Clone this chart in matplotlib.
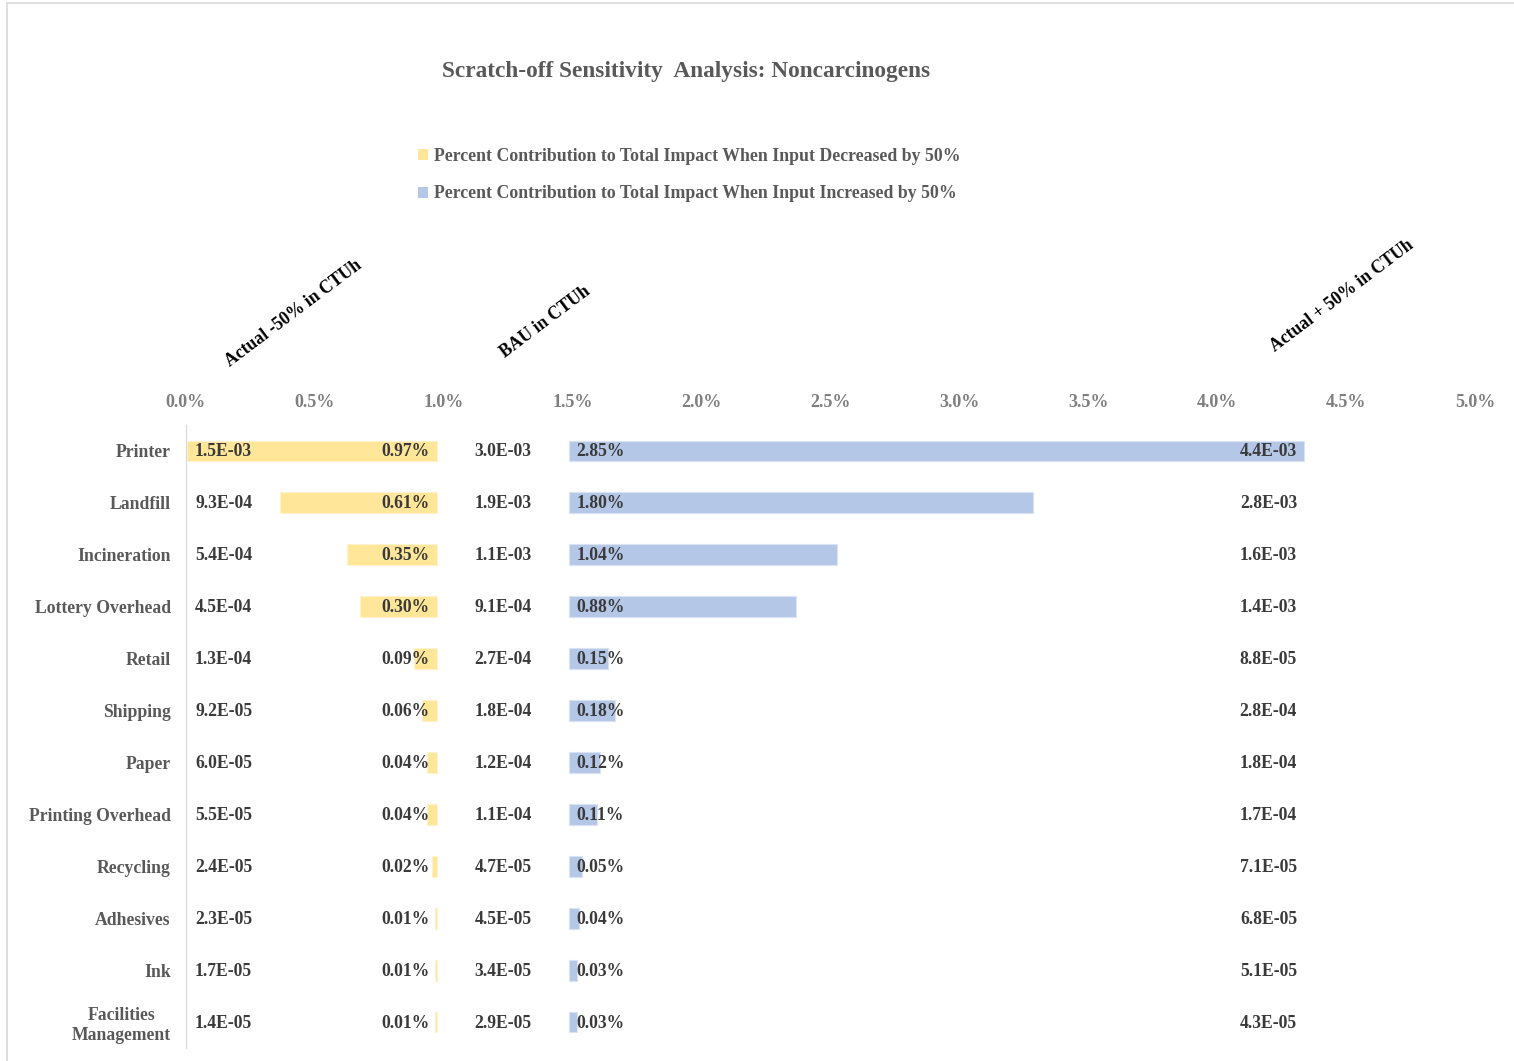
import matplotlib
matplotlib.use("Agg")
import matplotlib.pyplot as plt
from matplotlib.patches import Patch, Rectangle

# data
categories = ["Printer", "Landfill", "Incineration", "Lottery Overhead", "Retail",
              "Shipping", "Paper", "Printing Overhead", "Recycling", "Adhesives",
              "Ink", "Facilities\nManagement"]
pct_decreased = [0.97, 0.61, 0.35, 0.30, 0.09, 0.06, 0.04, 0.04, 0.02, 0.01, 0.01, 0.01]
pct_increased = [2.85, 1.80, 1.04, 0.88, 0.15, 0.18, 0.12, 0.11, 0.05, 0.04, 0.03, 0.03]
actual_minus = ["1.5E-03", "9.3E-04", "5.4E-04", "4.5E-04", "1.3E-04", "9.2E-05",
                "6.0E-05", "5.5E-05", "2.4E-05", "2.3E-05", "1.7E-05", "1.4E-05"]
bau = ["3.0E-03", "1.9E-03", "1.1E-03", "9.1E-04", "2.7E-04", "1.8E-04",
       "1.2E-04", "1.1E-04", "4.7E-05", "4.5E-05", "3.4E-05", "2.9E-05"]
actual_plus = ["4.4E-03", "2.8E-03", "1.6E-03", "1.4E-03", "8.8E-05", "2.8E-04",
               "1.8E-04", "1.7E-04", "7.1E-05", "6.8E-05", "5.1E-05", "4.3E-05"]
xticks = [0.0, 0.5, 1.0, 1.5, 2.0, 2.5, 3.0, 3.5, 4.0, 4.5, 5.0]

YELLOW = "#FFE699"
BLUE = "#B4C7E7"
yellow_end = 0.975   # yellow bars end here
blue_start = 1.485   # blue bars start here
FS = 12.7

plt.rcParams['font.family'] = ['Liberation Serif', 'DejaVu Serif']
plt.rcParams['font.weight'] = 'bold'

fig = plt.figure(figsize=(15.14, 10.61), dpi=100)
ax = fig.add_axes([186 / 1514, 1 - 1048 / 1061, 1289 / 1514, 623 / 1061])

y = list(range(len(categories)))
lefts = [yellow_end - v for v in pct_decreased]
ax.barh(y, pct_decreased, left=lefts, height=0.4, color=YELLOW,
        edgecolor="#fff2cc", linewidth=0.8)
ax.barh(y, pct_increased, left=blue_start, height=0.4, color=BLUE,
        edgecolor="#dae3f3", linewidth=0.8)

lab = dict(fontsize=FS, fontweight='bold', color="#3a3a3a", va='center')
for i in y:
    ax.text(0.035, i + 0.02, actual_minus[i], ha='left', **lab)
    ax.text(yellow_end - 0.03, i + 0.02, f"{pct_decreased[i]:.2f}%", ha='right', **lab)
    ax.text(1.23, i + 0.02, bau[i], ha='center', **lab)
    ax.text(blue_start + 0.03, i + 0.02, f"{pct_increased[i]:.2f}%", ha='left', **lab)
    ax.text(4.31, i + 0.02, actual_plus[i], ha='right', **lab)

ax.set_xlim(0, 5)
ax.set_ylim(len(categories) - 0.5, -0.5)
ax.set_xticks(xticks)
ax.set_xticklabels([f"{t:.1f}%" for t in xticks])
ax.xaxis.tick_top()
ax.tick_params(axis='x', length=0, pad=10, labelsize=13, labelcolor="#7f7f7f")
ax.set_yticks(y)
ax.set_yticklabels(categories)
ax.tick_params(axis='y', length=0, pad=11, labelsize=FS, labelcolor="#595959")
for t in ax.get_yticklabels():
    t.set_multialignment('center')
for s in ["top", "right", "bottom"]:
    ax.spines[s].set_visible(False)
ax.spines["left"].set_color("#d9d9d9")

# column headers
hdr = dict(fontsize=FS, fontweight='bold', color="black", rotation=37,
           rotation_mode='anchor', ha='left', va='bottom')
fig.text(232 / 1514, 1 - 370 / 1061, "Actual -50% in CTUh", **hdr)
fig.text(507 / 1514, 1 - 361 / 1061, "BAU in CTUh", **hdr)
fig.text(1277 / 1514, 1 - 355 / 1061, "Actual + 50% in CTUh", **hdr)

fig.text(686 / 1514, 1 - 71 / 1061, "Scratch-off Sensitivity  Analysis: Noncarcinogens",
         fontsize=16.8, fontweight='bold', color="#595959", ha='center', va='center')

handles = [Patch(facecolor=YELLOW, edgecolor='none'), Patch(facecolor=BLUE, edgecolor='none')]
fig.legend(handles,
           ["Percent Contribution to Total Impact When Input Decreased by 50%",
            "Percent Contribution to Total Impact When Input Increased by 50%"],
           loc='upper left', bbox_to_anchor=(402 / 1514, 1 - 132 / 1061),
           frameon=False, handlelength=0.55, handleheight=0.55, handletextpad=0.35,
           labelspacing=1.15, prop={'family': 'Liberation Serif', 'weight': 'bold', 'size': 12.8},
           labelcolor="#595959")

fig.patches.append(Rectangle((7 / 1514, -0.05), 1.2, 1.05 - 3 / 1061,
                             transform=fig.transFigure, fill=False,
                             edgecolor="#d9d9d9", linewidth=1.2))

fig.savefig("out.png", dpi=100)
